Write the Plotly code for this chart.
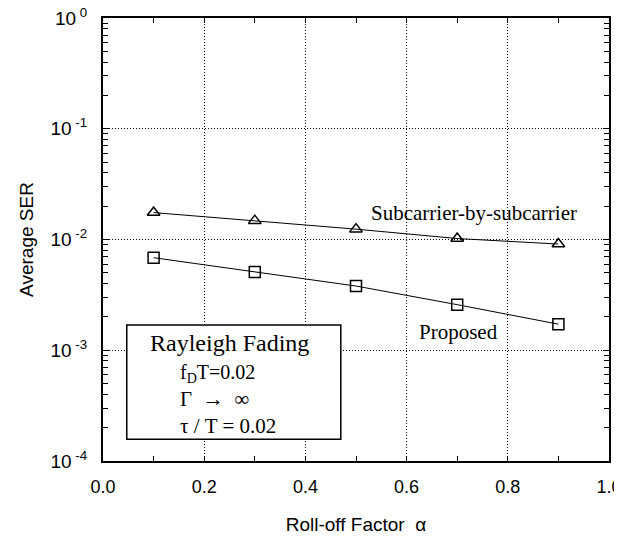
import plotly.graph_objects as go

alpha = [0.1, 0.3, 0.5, 0.7, 0.9]
ser_subcarrier = [0.0175, 0.0148, 0.0124, 0.0102, 0.0091]
ser_proposed = [0.00685, 0.0051, 0.0038, 0.00258, 0.00172]

ytick_vals = [1e-4, 1e-3, 1e-2, 1e-1, 1]
ytick_text = ["10<sup> -4</sup>", "10<sup> -3</sup>", "10<sup> -2</sup>", "10<sup> -1</sup>", "10<sup> 0</sup>"]
xtick_vals = [0.0, 0.2, 0.4, 0.6, 0.8, 1.0]
xtick_text = ["0.0", "0.2", "0.4", "0.6", "0.8", "1.0"]

sans = "Liberation Sans, Arial, sans-serif"
serif = "Liberation Serif, Times New Roman, serif"

fig = go.Figure()
fig.add_trace(go.Scatter(
    x=alpha, y=ser_subcarrier, mode="lines+markers", name="Subcarrier-by-subcarrier",
    line=dict(color="black", width=1),
    marker=dict(symbol="triangle-up-open", size=11, color="black", line=dict(width=1.5)),
))
fig.add_trace(go.Scatter(
    x=alpha, y=ser_proposed, mode="lines+markers", name="Proposed",
    line=dict(color="black", width=1),
    marker=dict(symbol="square-open", size=11, color="black", line=dict(width=1.5)),
))

# page body has an 8px default margin, so the figure is sized to fit the window
fig.update_layout(
    width=614, height=538,
    margin=dict(l=95, r=13, t=10, b=85, autoexpand=False),
    paper_bgcolor="white", plot_bgcolor="white",
    showlegend=False,
    font=dict(family=sans, color="black", size=17),
)
fig.update_xaxes(
    range=[0, 1], tickvals=xtick_vals, ticktext=xtick_text, automargin=False,
    showline=True, linecolor="black", linewidth=2, mirror="ticks",
    ticks="inside", ticklen=5, tickcolor="black",
    showgrid=True, gridcolor="black", gridwidth=1, griddash="1px,2px",
    minor=dict(dtick=0.1, ticks="inside", ticklen=5, tickcolor="black", showgrid=False),
    zeroline=False, tickfont=dict(size=18, family=sans),
    ticklabelstandoff=8, ticklabeloverflow="allow",
    title=dict(text="Roll-off Factor  α", font=dict(size=19, family=sans), standoff=22),
)
fig.update_yaxes(
    type="log", range=[-4, 0], tickvals=ytick_vals, ticktext=ytick_text, automargin=False,
    showline=True, linecolor="black", linewidth=2, mirror="ticks",
    ticks="inside", ticklen=6, tickcolor="black",
    showgrid=True, gridcolor="black", gridwidth=1, griddash="1px,2px",
    minor=dict(dtick="D1", ticks="inside", ticklen=5, tickcolor="black", showgrid=False),
    zeroline=False, tickfont=dict(size=19, family=sans),
    ticklabelstandoff=10, ticklabeloverflow="allow",
    title=dict(text="Average SER", font=dict(size=19, family=sans), standoff=12),
)

fig.add_shape(type="rect", xref="paper", yref="paper", x0=0.047, x1=0.47, y0=0.049, y1=0.307,
              line=dict(color="black", width=1.5), fillcolor="white", layer="above")

annots = [
    ("Subcarrier-by-subcarrier", 0.526, 0.5605, 21),
    ("Proposed", 0.62, 0.291, 21),
    ("Rayleigh Fading", 0.0895, 0.267, 24),
    ("f<sub>D</sub>T=0.02", 0.148, 0.1986, 20),
    ("Γ  →  ∞", 0.148, 0.140, 21),
    ("τ / T = 0.02", 0.148, 0.079, 21),
]
for txt, ax, ay, sz in annots:
    fig.add_annotation(text=txt, xref="paper", yref="paper", x=ax, y=ay,
                       xanchor="left", yanchor="middle", showarrow=False,
                       font=dict(family=serif, size=sz, color="black"))

fig.write_html("out.html")
